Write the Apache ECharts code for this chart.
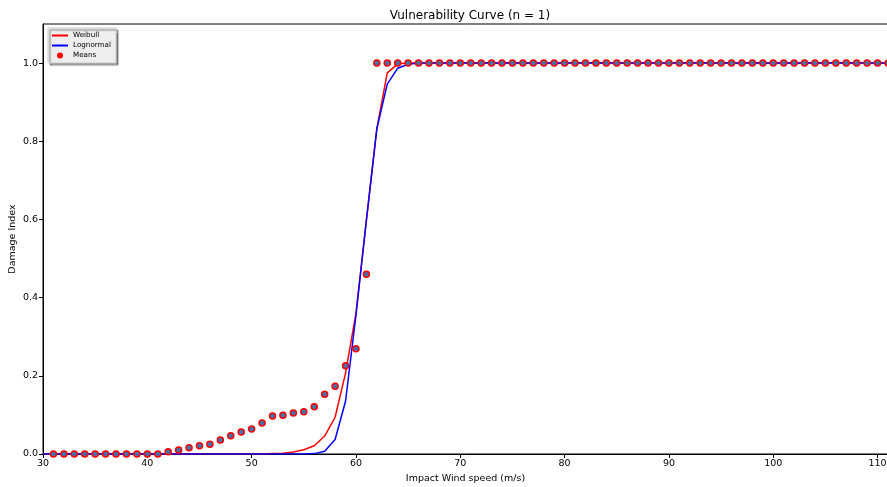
<!DOCTYPE html>
<html>
<head>
<meta charset="utf-8">
<script src="https://cdn.jsdelivr.net/npm/echarts@6/dist/echarts.min.js"></script>
<style>html,body{margin:0;padding:0;background:#fff;}#c{width:887px;height:487px;}</style>
</head>
<body>
<div id="c"></div>
<script>
var speeds = [30,31,32,33,34,35,36,37,38,39,40,41,42,43,44,45,46,47,48,49,50,51,52,53,54,55,56,57,58,59,60,61,62,63,64,65,66,67,68,69,70,71,72,73,74,75,76,77,78,79,80,81,82,83,84,85,86,87,88,89,90,91,92,93,94,95,96,97,98,99,100,101,102,103,104,105,106,107,108,109,110,111];
var weibull = [0,0,0,0,0,0,0,0,0,0,0,0,0,0,0,0,0,0,0,0,0,0,0.001,0.002,0.005,0.011,0.021,0.046,0.094,0.207,0.36,0.598,0.832,0.975,0.998,1,1,1,1,1,1,1,1,1,1,1,1,1,1,1,1,1,1,1,1,1,1,1,1,1,1,1,1,1,1,1,1,1,1,1,1,1,1,1,1,1,1,1,1,1,1,1];
var lognormal = [0,0,0,0,0,0,0,0,0,0,0,0,0,0,0,0,0,0,0,0,0,0,0,0,0,0,0.001,0.007,0.037,0.135,0.355,0.598,0.832,0.946,0.987,0.997,1,1,1,1,1,1,1,1,1,1,1,1,1,1,1,1,1,1,1,1,1,1,1,1,1,1,1,1,1,1,1,1,1,1,1,1,1,1,1,1,1,1,1,1,1,1];
var meanSpeeds = [31,32,33,34,35,36,37,38,39,40,41,42,43,44,45,46,47,48,49,50,51,52,53,54,55,56,57,58,59,60,61,62,63,64,65,66,67,68,69,70,71,72,73,74,75,76,77,78,79,80,81,82,83,84,85,86,87,88,89,90,91,92,93,94,95,96,97,98,99,100,101,102,103,104,105,106,107,108,109,110,111];
var means = [0,0,0,0,0,0,0,0,0,0,0,0.006,0.01,0.016,0.021,0.025,0.036,0.047,0.056,0.064,0.079,0.097,0.099,0.105,0.108,0.121,0.153,0.173,0.226,0.269,0.46,1,1,1,1,1,1,1,1,1,1,1,1,1,1,1,1,1,1,1,1,1,1,1,1,1,1,1,1,1,1,1,1,1,1,1,1,1,1,1,1,1,1,1,1,1,1,1,1,1,1];
var xTicks = [30,40,50,60,70,80,90,100,110];
var yTicks = [0,0.2,0.4,0.6,0.8,1.0];

function pairs(xs, ys){ return xs.map(function(x,i){ return [x, ys[i]]; }); }

var font = 'DejaVu Sans';
var chart = echarts.init(document.getElementById('c'), null, {renderer:'canvas'});
chart.setOption({
  animation: false,
  backgroundColor: '#ffffff',
  title: {
    text: 'Vulnerability Curve (n = 1)',
    left: 465, top: 5, textAlign: 'center',
    textStyle: {fontFamily: font, fontSize: 12, fontWeight: 'normal', color: '#000'}
  },
  legend: {
    left: 48, top: 28, orient: 'vertical',
    itemWidth: 16, itemHeight: 6, itemGap: 3,
    padding: [4, 5, 4, 4],
    backgroundColor: '#eeeeee',
    borderColor: '#cccccc', borderWidth: 1,
    shadowColor: 'rgba(0,0,0,0.45)', shadowOffsetX: 2, shadowOffsetY: 2, shadowBlur: 1,
    textStyle: {fontFamily: font, fontSize: 7.2, color: '#000', padding: [0,0,0,0]},
    data: [
      {name: 'Weibull', icon: 'path://M0,0 L16,0 L16,2 L0,2 Z'},
      {name: 'Lognormal', icon: 'path://M0,0 L16,0 L16,2 L0,2 Z'},
      {name: 'Means', icon: 'circle', itemStyle: {color: 'red', borderWidth: 0}}
    ]
  },
  grid: {left: 43, top: 24, width: 845, bottom: 33, show: true, borderColor: '#000', borderWidth: 1,
         containLabel: false, outerBoundsMode: 'none'},
  xAxis: {
    type: 'value', min: 30, max: 111, interval: 10,
    name: 'Impact Wind speed (m/s)', nameLocation: 'middle', nameGap: 20, nameMoveOverlap: false,
    nameTextStyle: {fontFamily: font, fontSize: 9.5, color: '#000'},
    axisLine: {show: true, lineStyle: {color: '#000', width: 1}},
    axisTick: {show: true, length: 4, lineStyle: {color: '#000'}, customValues: xTicks},
    axisLabel: {fontFamily: font, fontSize: 9.5, color: '#000', margin: 5, customValues: xTicks},
    splitLine: {show: false}
  },
  yAxis: {
    type: 'value', min: 0, max: 1.1, interval: 0.2,
    name: 'Damage Index', nameLocation: 'middle', nameGap: 25, nameRotate: 90, nameMoveOverlap: false,
    nameTextStyle: {fontFamily: font, fontSize: 9.5, color: '#000'},
    axisLine: {show: true, lineStyle: {color: '#000', width: 1}},
    axisTick: {show: true, length: 4, lineStyle: {color: '#000'}, customValues: yTicks},
    axisLabel: {fontFamily: font, fontSize: 9.5, color: '#000', margin: 5, customValues: yTicks,
      formatter: function(v){ return v.toFixed(1); }},
    splitLine: {show: false}
  },
  series: [
    {name: 'Weibull', type: 'line', data: pairs(speeds, weibull), showSymbol: false, symbol: 'none',
     lineStyle: {color: 'red', width: 1.5}, itemStyle: {color: 'red'}, z: 2},
    {name: 'Lognormal', type: 'line', data: pairs(speeds, lognormal), showSymbol: false, symbol: 'none',
     lineStyle: {color: 'blue', width: 1.5}, itemStyle: {color: 'blue'}, z: 3},
    {name: 'Means', type: 'scatter', data: pairs(meanSpeeds, means), symbol: 'circle', symbolSize: 6,
     itemStyle: {color: '#3f72ad', borderColor: 'red', borderWidth: 1.5, opacity: 1}, z: 4}
  ]
});
</script>
</body>
</html>
